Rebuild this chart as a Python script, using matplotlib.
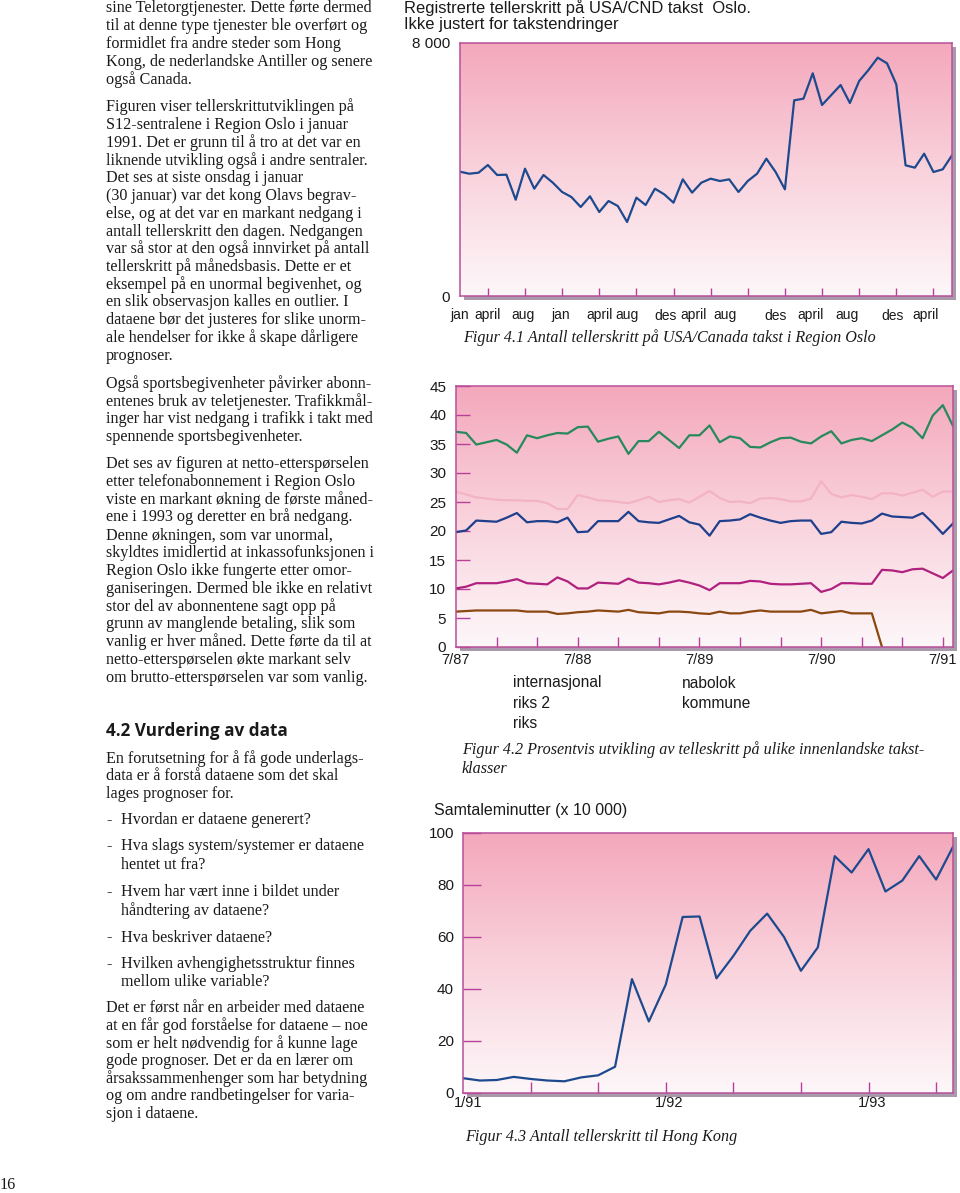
import numpy as np
import matplotlib
matplotlib.use('Agg')
import matplotlib.pyplot as plt
from matplotlib.patches import Rectangle
from matplotlib.colors import LinearSegmentedColormap

W, H = 960, 1193

# ---------------- data ----------------
fig1_values = [3930, 3867, 3899, 4142, 3826, 3836, 3045, 4026, 3393, 3826,
               3583, 3289, 3130, 2814, 3152, 2656, 3004, 2846, 2340, 3109,
               2877, 3393, 3215, 2951, 3689, 3268, 3583, 3710, 3636, 3689,
               3289, 3636, 3867, 4342, 3921, 3372, 6188, 6240, 7042, 6040,
               6356, 6672, 6103, 6798, 7146, 7536, 7357, 6693, 4132, 4058,
               4500, 3921, 4005, 4448]
fig1_tick_idx = [3, 7, 11, 15, 19, 23, 27, 31, 35, 39, 43, 47, 51]
fig1_labels = ['jan', 'april', 'aug', 'jan', 'april', 'aug', 'des', 'april',
               'aug', 'des', 'april', 'aug', 'des', 'april']
fig1_label_pos = [0.0, 3.0, 6.8, 10.8, 15.0, 18.0, 22.1, 25.2, 28.6, 34.0, 37.8, 41.7, 46.6, 50.2]
fig1_yticks = [0, 8000]
fig1_yticklabels = ['0', '8 000']

fig2_green = [37.1, 36.9, 34.9, 35.3, 35.7, 34.9, 33.5, 36.5, 36.0, 36.5,
              36.9, 36.8, 37.9, 38.0, 35.4, 35.9, 36.3, 33.3, 35.5, 35.5,
              37.1, 35.7, 34.3, 36.5, 36.5, 38.2, 35.3, 36.3, 36.0, 34.5,
              34.4, 35.3, 36.0, 36.1, 35.4, 35.1, 36.3, 37.2, 35.1, 35.7,
              36.0, 35.5, 36.5, 37.5, 38.7, 37.8, 36.0, 39.9, 41.7, 38.1]
fig2_pink = [26.8, 26.3, 25.8, 25.6, 25.4, 25.3, 25.3, 25.2, 25.2, 24.8,
             23.8, 23.8, 26.2, 25.8, 25.3, 25.2, 25.0, 24.8, 25.3, 25.9,
             25.0, 25.3, 25.5, 24.9, 25.9, 26.9, 25.7, 25.0, 25.1, 24.8,
             25.6, 25.7, 25.5, 25.1, 25.1, 25.6, 28.6, 26.4, 25.8, 26.2,
             25.9, 25.5, 26.5, 26.5, 26.1, 26.6, 27.1, 25.9, 26.8, 26.8]
fig2_blue = [19.8, 20.1, 21.8, 21.7, 21.6, 22.3, 23.1, 21.5, 21.7, 21.7,
             21.5, 22.3, 19.8, 19.9, 21.7, 21.7, 21.7, 23.3, 21.7, 21.5,
             21.4, 22.0, 22.6, 21.5, 21.1, 19.2, 21.7, 21.8, 22.0, 22.9,
             22.3, 21.8, 21.4, 21.7, 21.8, 21.8, 19.5, 19.8, 21.6, 21.4,
             21.3, 21.8, 23.0, 22.5, 22.4, 22.3, 23.1, 21.4, 19.5, 21.3]
fig2_magenta = [10.1, 10.4, 11.0, 11.0, 11.0, 11.3, 11.7, 11.0, 10.9, 10.8,
                12.0, 11.3, 10.1, 10.1, 11.1, 11.0, 10.9, 11.8, 11.1, 11.0,
                10.8, 11.1, 11.5, 11.1, 10.6, 9.8, 11.0, 11.0, 11.0, 11.4,
                11.3, 10.9, 10.8, 10.8, 10.9, 11.0, 9.5, 10.0, 11.0, 11.0,
                10.9, 10.9, 13.3, 13.2, 12.9, 13.4, 13.5, 12.7, 11.9, 13.2]
fig2_brown = [6.1, 6.2, 6.3, 6.3, 6.3, 6.3, 6.3, 6.1, 6.1, 6.1,
              5.7, 5.8, 6.0, 6.1, 6.3, 6.2, 6.1, 6.4, 6.0, 5.9,
              5.8, 6.1, 6.1, 6.0, 5.8, 5.7, 6.1, 5.8, 5.8, 6.1,
              6.3, 6.1, 6.1, 6.1, 6.1, 6.4, 5.8, 6.0, 6.2, 5.8,
              5.8, 5.8, 0.0, np.nan, np.nan, np.nan, np.nan, np.nan, np.nan, np.nan]
fig2_yticks = [0, 5, 10, 15, 20, 25, 30, 35, 40, 45]
fig2_yticklabels = ['0', '5', '10', '15', '20', '25', '30', '35', '40', '45']
fig2_tick_idx = [4, 8, 12, 16, 20, 24, 28, 32, 36, 40, 44, 48]
fig2_xlabels = ['7/87', '7/88', '7/89', '7/90', '7/91']
fig2_xlabel_pos = [0, 12, 24, 36, 48]
fig2_legend_col1 = ['internasjonal', 'riks 2', 'riks']
fig2_legend_col2 = ['nabolok', 'kommune']

fig3_values = [5.7, 4.8, 5.0, 6.2, 5.4, 4.8, 4.5, 6.0, 6.8, 10.1,
               43.8, 27.5, 41.7, 67.7, 67.9, 44.1, 52.7, 62.4, 69.0, 60.0,
               47.0, 56.0, 91.1, 84.8, 93.8, 77.5, 81.7, 91.1, 82.1, 94.7]
fig3_yticks = [0, 20, 40, 60, 80, 100]
fig3_yticklabels = ['0', '20', '40', '60', '80', '100']
fig3_tick_idx = [4, 8, 12, 16, 20, 24, 28]
fig3_xlabels = ['1/91', '1/92', '1/93']
fig3_xlabel_pos = [0.3, 12.2, 24.2]

# ---------------- text ----------------
para_lines = [
    (8, "sine Teletorgtjenester. Dette førte dermed"),
    (26, "til at denne type tjenester ble overført og"),
    (44, "formidlet fra andre steder som Hong"),
    (61.5, "Kong, de nederlandske Antiller og senere"),
    (79.5, "også Canada."),
    (107, "Figuren viser tellerskrittutviklingen på"),
    (125, "S12-sentralene i Region Oslo i januar"),
    (143, "1991. Det er grunn til å tro at det var en"),
    (160.5, "liknende utvikling også i andre sentraler."),
    (178, "Det ses at siste onsdag i januar"),
    (196.5, "(30 januar) var det kong Olavs begrav-"),
    (214, "else, og at det var en markant nedgang i"),
    (231.5, "antall tellerskritt den dagen. Nedgangen"),
    (249, "var så stor at den også innvirket på antall"),
    (266.5, "tellerskritt på månedsbasis. Dette er et"),
    (285, "eksempel på en unormal begivenhet, og"),
    (302.5, "en slik observasjon kalles en outlier. I"),
    (320.5, "dataene bør det justeres for slike unorm-"),
    (338, "ale hendelser for ikke å skape dårligere"),
    (356.5, "prognoser."),
    (384, "Også sportsbegivenheter påvirker abonn-"),
    (401.5, "entenes bruk av teletjenester. Trafikkmål-"),
    (419, "inger har vist nedgang i trafikk i takt med"),
    (437, "spennende sportsbegivenheter."),
    (464, "Det ses av figuren at netto-etterspørselen"),
    (481.5, "etter telefonabonnement i Region Oslo"),
    (500, "viste en markant økning de første måned-"),
    (517, "ene i 1993 og deretter en brå nedgang."),
    (535.5, "Denne økningen, som var unormal,"),
    (553, "skyldtes imidlertid at inkassofunksjonen i"),
    (571, "Region Oslo ikke fungerte etter omor-"),
    (589, "ganiseringen. Dermed ble ikke en relativt"),
    (606.5, "stor del av abonnentene sagt opp på"),
    (624, "grunn av manglende betaling, slik som"),
    (642, "vanlig er hver måned. Dette førte da til at"),
    (660, "netto-etterspørselen økte markant selv"),
    (678, "om brutto-etterspørselen var som vanlig."),
    (759, "En forutsetning for å få gode underlags-"),
    (776.5, "data er å forstå dataene som det skal"),
    (794.5, "lages prognoser for."),
    (1008.5, "Det er først når en arbeider med dataene"),
    (1026, "at en får god forståelse for dataene – noe"),
    (1043.5, "som er helt nødvendig for å kunne lage"),
    (1061, "gode prognoser. Det er da en lærer om"),
    (1079, "årsakssammenhenger som har betydning"),
    (1096.5, "og om andre randbetingelser for varia-"),
    (1114.5, "sjon i dataene."),
]
bullet_lines = [
    (820, "-", "Hvordan er dataene generert?"),
    (846.5, "-", "Hva slags system/systemer er dataene"),
    (865, "", "hentet ut fra?"),
    (892.5, "-", "Hvem har vært inne i bildet under"),
    (910.5, "", "håndtering av dataene?"),
    (937.5, "-", "Hva beskriver dataene?"),
    (964.5, "-", "Hvilken avhengighetsstruktur finnes"),
    (982.5, "", "mellom ulike variable?"),
]

SERIF = ['Liberation Serif', 'DejaVu Serif']
SANS = ['Liberation Sans', 'DejaVu Sans']
FRAME = '#b8509a'
TICKC = '#b8409a'
TXT = '#1a1a1a'
BODY_FS = 11.6

plt.rcParams['font.family'] = SANS

fig = plt.figure(figsize=(W / 100, H / 100), dpi=100)
fig.patch.set_facecolor('white')


def fy(y):
    return 1 - y / H


def ftext(x, y, s, **kw):
    fig.text(x / W, fy(y), s, va='center', ha=kw.pop('ha', 'left'), **kw)


def px_axes(l, t, r, b):
    sh = Rectangle(((l + 4) / W, 1 - (b + 4) / H), (r - l) / W, (b - t) / H,
                   transform=fig.transFigure, facecolor='#a99aab',
                   edgecolor='none', zorder=-1)
    fig.patches.append(sh)
    ax = fig.add_axes([l / W, 1 - b / H, (r - l) / W, (b - t) / H])
    cmap = LinearSegmentedColormap.from_list('pk', ['#fdf7f9', '#f9d2dc', '#f4a8bc'])
    grad = np.linspace(0, 1, 256).reshape(-1, 1)
    ax.imshow(grad, cmap=cmap, aspect='auto', extent=[0, 1, 0, 1],
              transform=ax.transAxes, origin='lower', zorder=0,
              interpolation='bicubic')
    for sp in ax.spines.values():
        sp.set_color(FRAME)
        sp.set_linewidth(1.1)
        sp.set_zorder(5)
    return ax


def xlabels(ax, positions, labels, pad_pt, fs):
    for p, s in zip(positions, labels):
        ax.annotate(s, xy=(p, 0), xycoords=('data', 'axes fraction'),
                    xytext=(0, -pad_pt), textcoords='offset points',
                    ha='center', va='top', fontsize=fs, color=TXT,
                    annotation_clip=False)


# ---------------- left text column ----------------
for y, s in para_lines:
    ftext(106, y, s, fontsize=BODY_FS, family=SERIF, color=TXT)
for y, d, s in bullet_lines:
    if d:
        ftext(106, y, d, fontsize=BODY_FS, family=SERIF, color=TXT)
    ftext(121, y, s, fontsize=BODY_FS, family=SERIF, color=TXT)
ftext(106, 731, "4.2 Vurdering av data", fontsize=12.3, family=['Open Sans', 'DejaVu Sans'],
      weight='bold', color=TXT)
ftext(0, 1185, "16", fontsize=BODY_FS, family=SERIF, color=TXT)

# ---------------- Figure 4.1 ----------------
ax1 = px_axes(460, 43, 952, 296)
x1 = np.arange(len(fig1_values))
ax1.plot(x1, fig1_values, color='#1d4a8e', lw=1.6, zorder=3)
ax1.set_xlim(0, len(fig1_values) - 1)
ax1.set_ylim(0, 8000)
ax1.set_yticks(fig1_yticks)
ax1.set_yticklabels(fig1_yticklabels)
ax1.tick_params(axis='y', length=0, pad=7, labelsize=11, labelcolor=TXT)
ax1.set_xticks(fig1_tick_idx)
ax1.set_xticklabels([])
ax1.tick_params(axis='x', which='major', direction='in', length=6, width=1, color=TICKC)
xlabels(ax1, fig1_label_pos, fig1_labels, 9, 10)
ftext(404, 8, "Registrerte tellerskritt på USA/CND takst  Oslo.", fontsize=11.9, color=TXT)
ftext(404, 24, "Ikke justert for takstendringer", fontsize=11.9, color=TXT)
ftext(463, 338, "Figur 4.1 Antall tellerskritt på USA/Canada takst i Region Oslo",
      fontsize=BODY_FS, family=SERIF, style='italic', color=TXT)

# ---------------- Figure 4.2 ----------------
ax2 = px_axes(456, 386, 953, 647)
x2 = np.arange(len(fig2_green))
ax2.plot(x2, fig2_green, color='#27895c', lw=1.6, zorder=3)
ax2.plot(x2, fig2_pink, color='#f3b3c6', lw=1.6, zorder=3)
ax2.plot(x2, fig2_blue, color='#1d3f8c', lw=1.6, zorder=3)
ax2.plot(x2, fig2_magenta, color='#b0207e', lw=1.6, zorder=3)
ax2.plot(x2, fig2_brown, color='#8a4810', lw=1.6, zorder=3)
ax2.set_xlim(0, len(fig2_green) - 1)
ax2.set_ylim(0, 45)
ax2.set_yticks(fig2_yticks)
ax2.set_yticklabels(fig2_yticklabels)
ax2.tick_params(axis='y', direction='in', length=10, width=1, color=TICKC,
                pad=7, labelsize=11, labelcolor=TXT)
ax2.set_xticks(fig2_tick_idx)
ax2.set_xticklabels([])
ax2.tick_params(axis='x', which='major', direction='in', length=7, width=1, color=TICKC)
xlabels(ax2, fig2_xlabel_pos, fig2_xlabels, 4.5, 10.5)
for i, s in enumerate(fig2_legend_col1):
    ftext(513, 683 + 20.5 * i, s, fontsize=11.2, color=TXT)
for i, s in enumerate(fig2_legend_col2):
    ftext(682, 683 + 20.5 * i, s, fontsize=11.2, color=TXT)
ftext(462, 750, "Figur 4.2 Prosentvis utvikling av telleskritt på ulike innenlandske takst-",
      fontsize=BODY_FS, family=SERIF, style='italic', color=TXT)
ftext(462, 769, "klasser", fontsize=BODY_FS, family=SERIF, style='italic', color=TXT)

# ---------------- Figure 4.3 ----------------
ax3 = px_axes(463, 833, 953, 1093)
x3 = np.arange(len(fig3_values))
ax3.plot(x3, fig3_values, color='#1d4a8e', lw=1.6, zorder=3)
ax3.set_xlim(0, len(fig3_values) - 1)
ax3.set_ylim(0, 100)
ax3.set_yticks(fig3_yticks)
ax3.set_yticklabels(fig3_yticklabels)
ax3.tick_params(axis='y', direction='in', length=13, width=1, color=TICKC,
                pad=6.5, labelsize=11, labelcolor=TXT)
ax3.set_xticks(fig3_tick_idx)
ax3.set_xticklabels([])
ax3.tick_params(axis='x', which='major', direction='in', length=8, width=1, color=TICKC)
xlabels(ax3, fig3_xlabel_pos, fig3_xlabels, 2.5, 10.5)
ftext(434, 810, "Samtaleminutter (x 10 000)", fontsize=11.5, color=TXT)
ftext(465, 1137, "Figur 4.3 Antall tellerskritt til Hong Kong",
      fontsize=BODY_FS, family=SERIF, style='italic', color=TXT)

fig.savefig('out.png', dpi=100)
